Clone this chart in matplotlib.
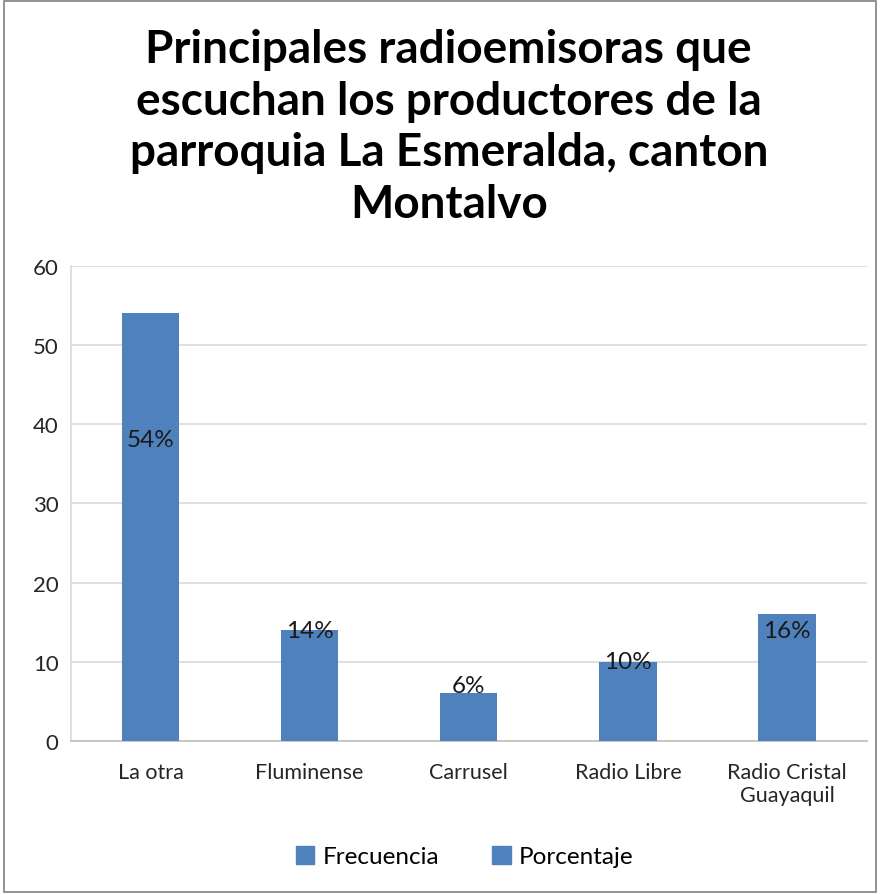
import matplotlib.pyplot as plt
from matplotlib.patches import Patch, Rectangle

categorias = ["La otra", "Fluminense", "Carrusel", "Radio Libre", "Radio Cristal\nGuayaquil"]
frecuencia = [54, 14, 6, 10, 16]
porcentaje = ["54%", "14%", "6%", "10%", "16%"]
pos_etiqueta = [38, 14, 7, 10, 14]

azul = "#4F81BD"
plt.rcParams['font.family'] = ['Lato', 'DejaVu Sans']

fig = plt.figure(figsize=(8.8, 8.95), dpi=100)
ax = fig.add_axes([0.0807, 0.171, 0.904, 0.531])

x = range(len(categorias))
ax.bar(x, frecuencia, width=0.36, color=azul, zorder=3)
for i in x:
    ax.text(i, pos_etiqueta[i], porcentaje[i], ha="center", va="center",
            fontsize=17.5, color="#1a1a1a", zorder=4)

ax.set_xlim(-0.5, len(categorias) - 0.5)
ax.set_ylim(0, 60)
ax.set_yticks(range(0, 61, 10))
ax.set_xticks(list(x))
ax.set_xticklabels(categorias, fontsize=15.5, color="#262626", linespacing=1.2)
ax.tick_params(axis="y", labelsize=16, colors="#262626", length=0, pad=9)
ax.tick_params(axis="x", length=0, pad=15)
ax.grid(axis="y", color="#D9D9D9", linewidth=1.2, zorder=0)
for s in ["top", "right"]:
    ax.spines[s].set_visible(False)
ax.spines["left"].set_color("#D9D9D9")
ax.spines["bottom"].set_color("#BFBFBF")
ax.spines["left"].set_linewidth(1.2)
ax.spines["bottom"].set_linewidth(1.2)

fig.text(0.51, 0.8575, "Principales radioemisoras que\nescuchan los productores de la\nparroquia La Esmeralda, canton\nMontalvo",
         ha="center", va="center", fontsize=33, fontweight="bold", linespacing=1.29)

handles = [Patch(color=azul, label="Frecuencia"), Patch(color=azul, label="Porcentaje")]
fig.legend(handles=handles, loc="center", bbox_to_anchor=(0.528, 0.042), ncol=2,
           frameon=False, fontsize=17.5, handlelength=0.75, handleheight=0.75,
           handletextpad=0.35, columnspacing=2.2)

fig.patches.append(Rectangle((0.004, 0.002), 0.992, 0.996, transform=fig.transFigure,
                             fill=False, edgecolor="#808080", linewidth=1.2))

fig.savefig("out.png", dpi=100)
